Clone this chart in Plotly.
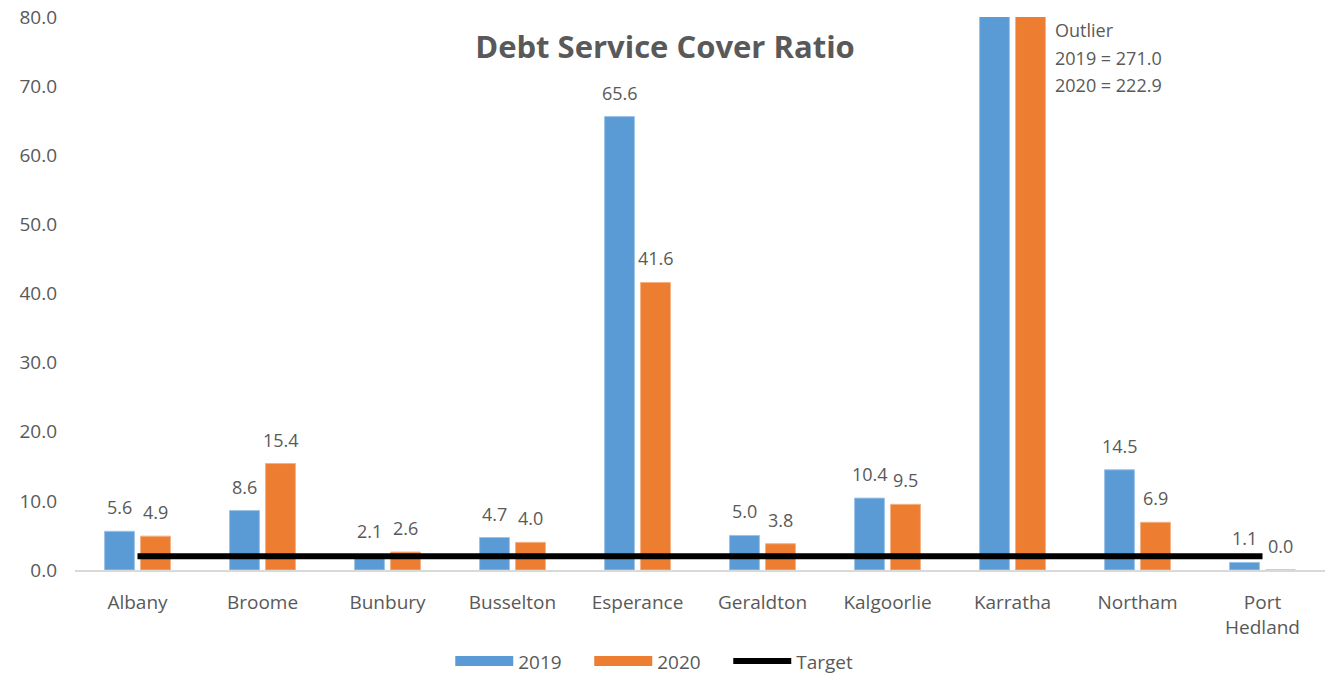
import plotly.graph_objects as go

# Debt service cover ratio by regional centre
centres = ["Albany", "Broome", "Bunbury", "Busselton", "Esperance",
           "Geraldton", "Kalgoorlie", "Karratha", "Northam", "Port<br>Hedland"]
dscr_2019 = [5.6, 8.6, 2.1, 4.7, 65.6, 5.0, 10.4, 271.0, 14.5, 1.1]
dscr_2020 = [4.9, 15.4, 2.6, 4.0, 41.6, 3.8, 9.5, 222.9, 6.9, 0.0]
target = [2.0] * len(centres)
y_ticks = [0, 10, 20, 30, 40, 50, 60, 70, 80]
y_max = 80

BLUE = "#5B9BD5"
ORANGE = "#ED7D31"
GREY = "#595959"
FONT = "Open Sans"

fig = go.Figure()
fig.add_trace(go.Bar(name="2019", x=centres, y=dscr_2019, showlegend=False,
                     marker=dict(color=BLUE, line=dict(color="#9DC3E6", width=1))))
fig.add_trace(go.Bar(name="2020", x=centres, y=dscr_2020, showlegend=False,
                     marker=dict(color=ORANGE, line=dict(color="#F4B183", width=1))))
fig.add_trace(go.Scatter(name="Target", x=centres, y=target, mode="lines",
                         showlegend=False, line=dict(color="black", width=6)))

# legend keys: wide swatches for the bar series, a thick rule for the target
for name, colour, width in (("2019", BLUE, 11), ("2020", ORANGE, 11), ("Target", "black", 6)):
    fig.add_trace(go.Scatter(name=name, x=[None], y=[None], mode="lines",
                             line=dict(color=colour, width=width)))

# value labels above each bar (bars running past the axis are noted separately)
for series, shift in ((dscr_2019, -18), (dscr_2020, 18)):
    for c, v in zip(centres, series):
        if v > y_max:
            continue
        fig.add_annotation(x=c, y=v, text=f"{v:.1f}", showarrow=False,
                           xshift=shift, yshift=10, yanchor="bottom",
                           font=dict(family=FONT, size=18, color=GREY))

outlier_lines = ["Outlier",
                 f"2019 = {dscr_2019[7]:.1f}",
                 f"2020 = {dscr_2020[7]:.1f}"]
for line, yp in zip(outlier_lines, (0.9765, 0.926, 0.877)):
    fig.add_annotation(x=0.782, y=yp, xref="paper", yref="paper",
                       xanchor="left", yanchor="middle", showarrow=False,
                       text=line, font=dict(family=FONT, size=18, color=GREY))

fig.update_layout(
    width=1328, height=677,
    margin=dict(l=75, r=3, t=17, b=107, autoexpand=False),
    paper_bgcolor="white", plot_bgcolor="white",
    barmode="group", bargap=0.424, bargroupgap=0.17,
    title=dict(text="<b>Debt Service Cover Ratio</b>", x=665 / 1328, xanchor="center",
               y=1 - 47 / 677, yanchor="middle", yref="container",
               font=dict(family=FONT, size=31, color=GREY)),
    legend=dict(orientation="h", x=0.467, xanchor="center", y=-0.165, yanchor="middle",
                font=dict(family=FONT, size=19, color=GREY), itemwidth=58,
                entrywidth=66, traceorder="normal"),
    font=dict(family=FONT, color=GREY),
)
fig.update_yaxes(range=[0, y_max], tickvals=y_ticks,
                 ticktext=[f"{t:.1f}" for t in y_ticks],
                 showgrid=False, zeroline=False, showline=False, ticks="",
                 ticklabelstandoff=17, automargin=False,
                 tickfont=dict(family=FONT, size=19, color=GREY))
fig.update_xaxes(showgrid=False, showline=True, linecolor="#D9D9D9", linewidth=2,
                 ticks="", ticklabelstandoff=14, automargin=False,
                 tickfont=dict(family=FONT, size=19, color=GREY))

fig.write_html("out.html")
